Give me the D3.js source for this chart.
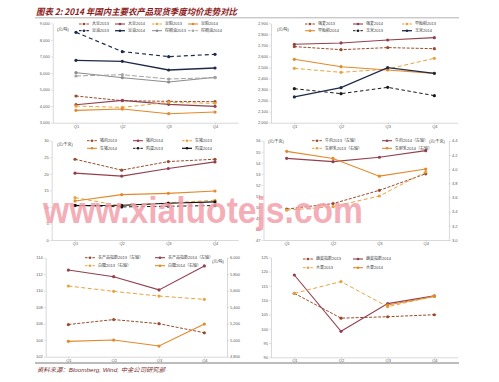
<!DOCTYPE html>
<html><head><meta charset="utf-8">
<script src="https://cdn.jsdelivr.net/npm/d3@7"></script>
<style>
html,body{margin:0;padding:0;background:#fff;}
svg{display:block;font-family:"Liberation Sans","Noto Sans CJK SC",sans-serif;}
</style></head>
<body>
<svg id="chart" width="499" height="382"></svg>
<script>
// ---------- DATA ----------
const quarters = ["Q1","Q2","Q3","Q4"];

// Panel 1 (元/吨)
const p1Ticks = [3000,4000,5000,6000,7000,8000,9000];
const p1Names = ["大豆2013","大豆2014","豆粕2013","豆粕2014","豆油2013","豆油2014","棕榈油2013","棕榈油2014"];
const p1Soy13  = [4611,4329,4289,4268];
const p1Soy14  = [4087,4349,4107,3987];
const p1Meal13 = [4006,3926,4228,4168];
const p1Meal14 = [3745,3825,3544,3644];
const p1Oil13  = [8456,7289,6987,7128];
const p1Oil14  = [6765,6705,6181,6302];
const p1PalmA  = [6020,5718,5456,5738];
const p1PalmB  = [5819,5899,5638,5718];

// Panel 2 (元/吨)
const p2Ticks = [2000,2100,2200,2300,2400,2500,2600,2700,2800,2900];
const p2Names = ["强麦2013","强麦2014","早籼稻2013","早籼稻2014","玉米2013","玉米2014"];
const p2Wheat13 = [2689,2661,2680,2670];
const p2Wheat14 = [2710,2722,2749,2770];
const p2Rice13  = [2492,2456,2486,2583];
const p2Rice14  = [2574,2507,2477,2447];
const p2Corn13  = [2308,2263,2320,2245];
const p2Corn14  = [2233,2317,2498,2447];

// Panel 3 (元/千克)
const p3Ticks = [0,5,10,15,20,25,30];
const p3Names = ["猪肉2013","猪肉2014","生猪2013","生猪2014","鸡蛋2013","鸡蛋2014"];
const p3Pork13 = [24.4,21.1,23.7,24.4];
const p3Pork14 = [20.2,19.3,21.6,23.6];
const p3Hog13  = [12.8,10.3,11.2,12.0];
const p3Hog14  = [11.8,13.7,14.1,14.8];
const p3Egg13  = [10.5,10.0,10.2,10.4];
const p3Egg14  = [10.4,10.5,11.1,11.5];

// Panel 4 (元/千克) left & right axes
const p4TicksL = [47,48,49,50,51,52,53,54,55,56];
const p4TicksR = [3.0,3.2,3.4,3.6,3.8,4.0,4.2,4.4];
const p4Names = ["牛肉2013（左轴）","牛肉2014（左轴）","生鲜乳2013（右轴）","生鲜乳2014（右轴）"];
const p4Beef13 = [49.8,50.3,51.5,53.0];
const p4Beef14 = [54.4,54.1,54.5,55.1];
const p4Milk13 = [3.42,3.47,3.62,3.96];
const p4Milk14 = [4.25,4.15,3.90,4.00];

// Panel 5 left index, right (元/吨)
const p5TicksL = [102,104,106,108,110,112,114];
const p5TicksR = [4800,5000,5200,5400,5600,5800,6000];
const p5Names = ["农产品指数2013（左轴）","农产品指数2014（左轴）","白糖2013（右轴）","白糖2014（右轴）"];
const p5Idx13   = [105.9,106.5,106.0,104.9];
const p5Idx14   = [112.5,111.7,110.1,113.0];
const p5Sugar13 = [5657,5592,5535,5495];
const p5Sugar14 = [4986,5002,4929,5196];

// Panel 6 index
const p6Ticks = [90,95,100,105,110,115,120,125];
const p6Names = ["蔬菜指数2013","蔬菜指数2014","水果2013","水果2014"];
const p6Veg13   = [112.4,103.7,104.2,104.9];
const p6Veg14   = [118.8,99.1,108.8,111.5];
const p6Fruit13 = [112.4,116.5,107.7,111.4];
const p6Fruit14 = [null,null,108.3,111.3];

// ---------- STYLES ----------
const ST = {
  brownD:  {color:"#9c4a2c", dash:"3,1.5", w:1},
  maroon:  {color:"#93404e", dash:null,    w:1.1},
  lorangeD:{color:"#e9a33e", dash:"4,2.5", w:1},
  orange:  {color:"#e3892b", dash:null,    w:1.1},
  navyD:   {color:"#1e2b48", dash:"4,3",   w:1.2},
  navy:    {color:"#1e2b48", dash:null,    w:1.3},
  blackD:  {color:"#1a1a1a", dash:"3.5,2.5", w:1},
  black:   {color:"#111111", dash:null,    w:1.2},
  grayS:   {color:"#8c8c8c", dash:null,    w:1},
  grayD:   {color:"#a3a3a3", dash:"5,2",   w:1}
};

const svg = d3.select("#chart");
const FS = 4;

function styleAxis(sel){
  sel.select(".domain").attr("stroke","#bfbfbf").attr("stroke-width",0.6);
  sel.selectAll(".tick line").attr("stroke","#bfbfbf").attr("stroke-width",0.5);
  sel.selectAll(".tick text").attr("fill","#595959").attr("font-size",FS).attr("font-family","Liberation Sans, sans-serif");
}

function drawPanel(P){
  const g = svg.append("g");
  const x = d3.scalePoint().domain(quarters).range([P.left,P.right]).padding(0.5);
  const yL = d3.scaleLinear().domain([P.yTicks[0],P.yTicks[P.yTicks.length-1]]).range([P.bottom,P.top]);
  const yR = P.yRTicks ? d3.scaleLinear().domain([P.yRTicks[0],P.yRTicks[P.yRTicks.length-1]]).range([P.bottom,P.top]) : null;

  g.append("g").attr("transform",`translate(${P.left},0)`)
    .call(d3.axisLeft(yL).tickValues(P.yTicks).tickFormat(P.fmt).tickSize(2).tickPadding(1).tickSizeOuter(0))
    .call(styleAxis);
  if (yR){
    g.append("g").attr("transform",`translate(${P.right},0)`)
      .call(d3.axisRight(yR).tickValues(P.yRTicks).tickFormat(P.fmtR).tickSize(2).tickPadding(1).tickSizeOuter(0))
      .call(styleAxis);
  }
  g.append("g").attr("transform",`translate(0,${P.bottom})`)
    .call(d3.axisBottom(x).tickSize(2).tickPadding(0).tickSizeOuter(0))
    .call(styleAxis);

  // series
  P.series.forEach(s=>{
    const ys = s.right ? yR : yL;
    const st = s.style;
    const line = d3.line().defined(d=>d!=null).x((d,i)=>x(quarters[i])).y(d=>ys(d));
    g.append("path").datum(s.values).attr("d",line)
      .attr("fill","none").attr("stroke",st.color).attr("stroke-width",st.w)
      .attr("stroke-dasharray",st.dash||null);
    g.selectAll(null).data(s.values.map((v,i)=>({v,i})).filter(d=>d.v!=null)).enter()
      .append("circle").attr("cx",d=>x(quarters[d.i])).attr("cy",d=>ys(d.v)).attr("r",1.6)
      .attr("fill",st.color);
  });

  // legend
  P.series.forEach((s,k)=>{
    const col = k % P.legCols.length, row = Math.floor(k / P.legCols.length);
    const lx = P.legCols[col], ly = P.legRows[row];
    const st = s.style;
    g.append("line").attr("x1",lx).attr("x2",lx+10).attr("y1",ly).attr("y2",ly)
      .attr("stroke",st.color).attr("stroke-width",st.w).attr("stroke-dasharray",st.dash?"2.5,1.2":null);
    g.append("circle").attr("cx",lx+5).attr("cy",ly).attr("r",1.3).attr("fill",st.color);
    g.append("text").attr("x",lx+13).attr("y",ly+1.4).attr("font-size",FS).attr("fill","#404040").text(s.name);
  });

  // units
  (P.units||[]).forEach(u=>{
    g.append("text").attr("x",u[0]).attr("y",u[1]).attr("font-size",FS).attr("fill","#404040").text(u[2]);
  });
}

const panels = [
  {left:52.8,right:238.2,top:23.3,bottom:122.7,yTicks:p1Ticks,fmt:d3.format(","),
   legCols:[79,115,152,188],legRows:[24,30.7],units:[[57,30.5,"(元/吨)"]],
   series:[
    {name:p1Names[0],values:p1Soy13,style:ST.brownD},
    {name:p1Names[1],values:p1Soy14,style:ST.maroon},
    {name:p1Names[2],values:p1Meal13,style:ST.lorangeD},
    {name:p1Names[3],values:p1Meal14,style:ST.orange},
    {name:p1Names[4],values:p1Oil13,style:ST.navyD},
    {name:p1Names[5],values:p1Oil14,style:ST.navy},
    {name:p1Names[6],values:p1PalmA,style:ST.grayS},
    {name:p1Names[7],values:p1PalmB,style:ST.grayD}]},
  {left:271,right:457.7,top:23.3,bottom:122.7,yTicks:p2Ticks,fmt:d3.format(","),
   legCols:[305,353,402],legRows:[24,30.7],units:[[277,30.5,"(元/吨)"]],
   series:[
    {name:p2Names[0],values:p2Wheat13,style:ST.brownD},
    {name:p2Names[1],values:p2Wheat14,style:ST.maroon},
    {name:p2Names[2],values:p2Rice13,style:ST.lorangeD},
    {name:p2Names[3],values:p2Rice14,style:ST.orange},
    {name:p2Names[4],values:p2Corn13,style:ST.blackD},
    {name:p2Names[5],values:p2Corn14,style:ST.navy}]},
  {left:51.7,right:238.3,top:140.7,bottom:240,yTicks:p3Ticks,fmt:d3.format("d"),
   legCols:[87,133,182],legRows:[140.7,148.3],units:[[57,145.5,"(元/千克)"]],
   series:[
    {name:p3Names[0],values:p3Pork13,style:ST.brownD},
    {name:p3Names[1],values:p3Pork14,style:ST.maroon},
    {name:p3Names[2],values:p3Hog13,style:ST.lorangeD},
    {name:p3Names[3],values:p3Hog14,style:ST.orange},
    {name:p3Names[4],values:p3Egg13,style:ST.blackD},
    {name:p3Names[5],values:p3Egg14,style:ST.black}]},
  {left:263.5,right:448.9,top:140.7,bottom:240,yTicks:p4TicksL,fmt:d3.format("d"),
   yRTicks:p4TicksR,fmtR:d3.format(".1f"),
   legCols:[312,382],legRows:[140.7,148.3],units:[[268,142.5,"(元/千克)"],[429,142.5,"(元/千克)"]],
   series:[
    {name:p4Names[0],values:p4Beef13,style:ST.brownD},
    {name:p4Names[1],values:p4Beef14,style:ST.maroon},
    {name:p4Names[2],values:p4Milk13,style:ST.lorangeD,right:true},
    {name:p4Names[3],values:p4Milk14,style:ST.orange,right:true}]},
  {left:45.7,right:227,top:257.7,bottom:356.7,yTicks:p5TicksL,fmt:d3.format("d"),
   yRTicks:p5TicksR,fmtR:d3.format(","),
   legCols:[85,155],legRows:[257.7,265.7],units:[[212,262.5,"(元/吨)"]],
   series:[
    {name:p5Names[0],values:p5Idx13,style:ST.brownD},
    {name:p5Names[1],values:p5Idx14,style:ST.maroon},
    {name:p5Names[2],values:p5Sugar13,style:ST.lorangeD,right:true},
    {name:p5Names[3],values:p5Sugar14,style:ST.orange,right:true}]},
  {left:271,right:457.7,top:257.3,bottom:357.3,yTicks:p6Ticks,fmt:d3.format("d"),
   legCols:[303,353],legRows:[259,267.7],
   series:[
    {name:p6Names[0],values:p6Veg13,style:ST.brownD},
    {name:p6Names[2],values:p6Fruit13,style:ST.lorangeD},
    {name:p6Names[3],values:p6Fruit14,style:ST.orange},
    {name:p6Names[1],values:p6Veg14,style:ST.maroon}],
   legendOrder:true}
];

// panel 6 legend order fix: draw order differs from legend order
panels.forEach((P,pi)=>{
  if (pi===5){
    const legendSeries = [P.series[0],P.series[3],P.series[1],P.series[2]];
    const Q = Object.assign({},P,{series:legendSeries});
    drawPanel(Q);
  } else drawPanel(P);
});

// title & frame lines
svg.append("text").attr("x",36).attr("y",15.2)
  .attr("font-family","Noto Sans CJK SC, sans-serif").attr("font-size",8.8)
  .attr("font-weight","bold").attr("font-style","italic").attr("fill","#8c1c1c")
  .attr("textLength",201).attr("lengthAdjust","spacingAndGlyphs")
  .text("图表 2: 2014 年国内主要农产品现货季度均价走势对比");
svg.append("line").attr("x1",35).attr("x2",459).attr("y1",17.8).attr("y2",17.8)
  .attr("stroke","#a0a0a0").attr("stroke-width",0.8);
svg.append("line").attr("x1",35).attr("x2",459).attr("y1",363).attr("y2",363)
  .attr("stroke","#a6a6a6").attr("stroke-width",1.4);
svg.append("text").attr("x",37).attr("y",372.3)
  .attr("font-family","Liberation Sans, Noto Sans CJK SC, sans-serif").attr("font-size",6)
  .attr("font-style","italic").attr("fill","#7a2a2a")
  .attr("textLength",128).attr("lengthAdjust","spacingAndGlyphs")
  .text("资料来源：Bloomberg, Wind, 中金公司研究部");

// watermark
svg.append("text").attr("x",43).attr("y",223)
  .attr("font-family","Liberation Sans, sans-serif").attr("font-size",36).attr("font-weight","bold")
  .attr("fill","#f3a0aa").attr("fill-opacity",0.85)
  .attr("textLength",320).attr("lengthAdjust","spacingAndGlyphs")
  .text("www.xialuotejs.com");
</script>
</body></html>
